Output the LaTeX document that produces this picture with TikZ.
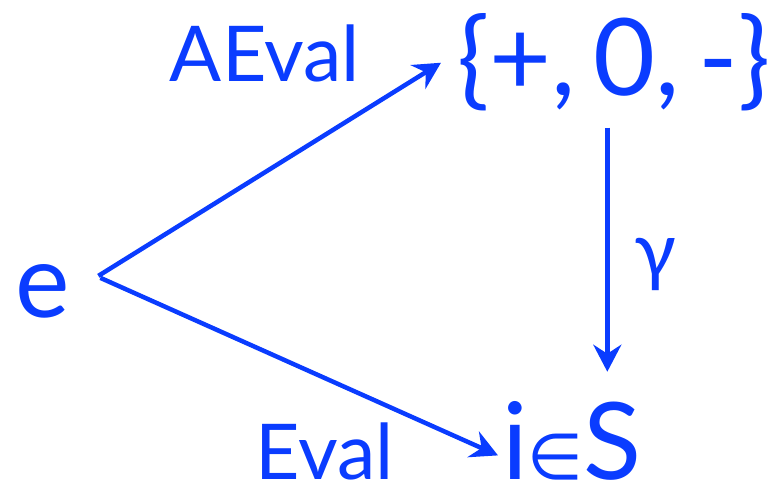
\documentclass[tikz,border=0pt]{standalone}
\usepackage{fontspec}
\setmainfont{Lato}
\newfontfamily\symfont{DejaVu Sans}
\usetikzlibrary{arrows.meta,positioning}
\definecolor{DiagramBlue}{HTML}{0A3CFF}
\tikzset{
  diagram/.style={text=DiagramBlue,inner sep=0pt},
  bigset/.style={font=\fontsize{107}{120}\selectfont},
  term/.style={font=\fontsize{103}{110}\selectfont},
  maplabel/.style={font=\fontsize{77}{80}\selectfont},
  mapto/.style={-{Stealth[length=27pt,width=28pt,inset=9pt]},line width=4.5pt,draw=DiagramBlue},
}
\begin{document}
\begin{tikzpicture}[diagram,x=1pt,y=1pt]
  \useasboundingbox (0,0) rectangle (784,480);
  \node[term,anchor=base] (e) at (43,163) {e};
  \node[bigset,anchor=base west] (abs) at (457,384) {\{+,\hspace{0.17em}0,\hspace{0.17em}-\}};
  \node[bigset,anchor=base west] (conc) at (502,1) {i{\symfont\fontsize{64}{70}\selectfont ∈}S};
  \node[maplabel,anchor=base] (aeval) at (265,398) {AEval};
  \node[maplabel,anchor=base] (eval) at (325,1) {Eval};
  \node[maplabel,anchor=north] (gamma) at (655,242) {γ};

  \draw[mapto] ([xshift=28pt,yshift=15pt]e.east) -- ([xshift=-16pt]abs.west);
  \draw[mapto] ([xshift=30pt,yshift=13pt]e.east) -- ([xshift=-4pt,yshift=-15pt]conc.west);
  \draw[mapto] ([xshift=-6.5pt,yshift=-16pt]abs.south) -- ([xshift=-6.5pt,yshift=29pt]abs.south |- conc.north);
\end{tikzpicture}
\end{document}
